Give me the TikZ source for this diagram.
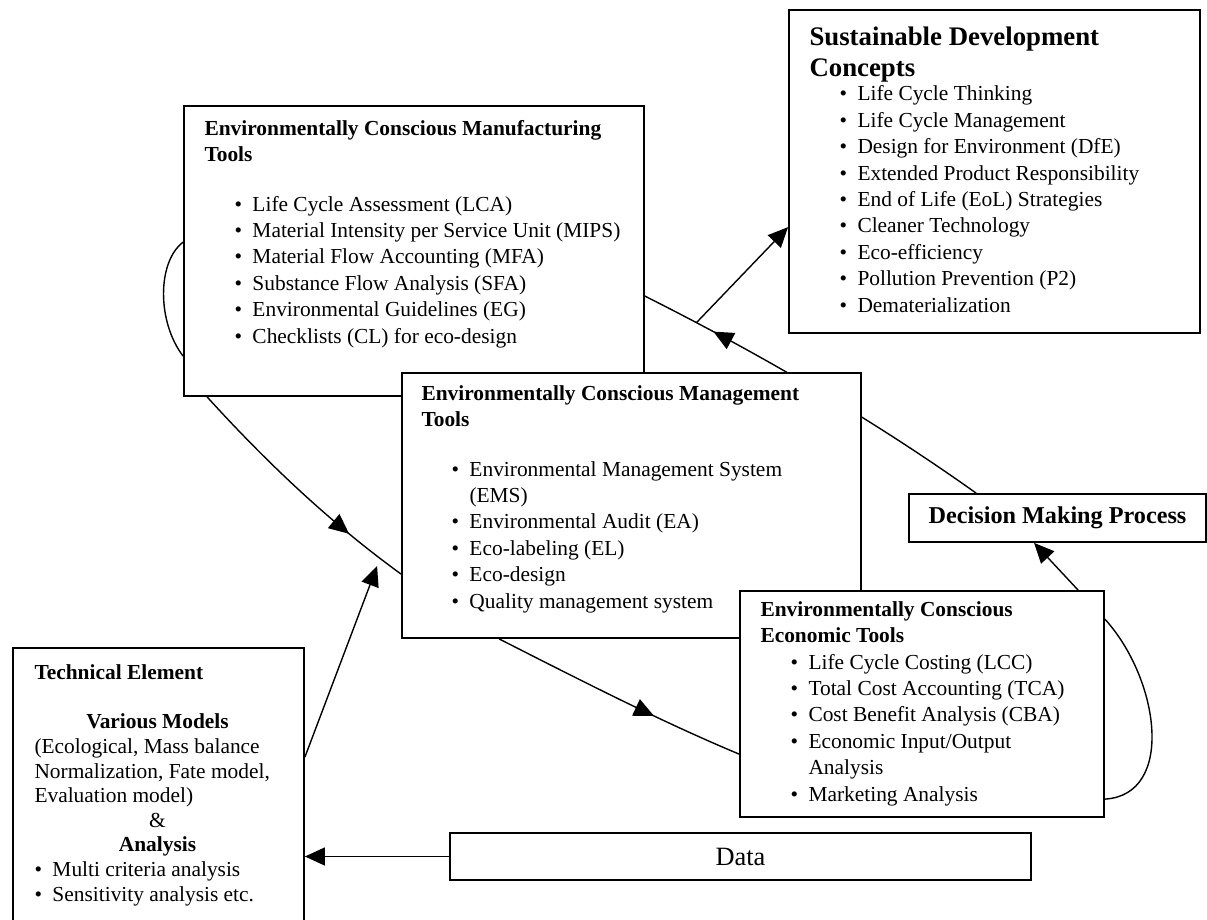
\documentclass[tikz,border=0pt]{standalone}
\usepackage{fontspec}
\setmainfont{Liberation Serif}
\usepackage{tikz}
\usetikzlibrary{arrows.meta,positioning,fit,backgrounds,calc,decorations.markings}

\newcommand{\bitem}{\hspace*{15pt}\makebox[9pt][l]{\textbullet}}
\newcommand{\bcont}{\hspace*{24pt}}

\begin{document}
\begin{tikzpicture}[
  x=0.5pt, y=-0.5pt,
  >={Triangle[length=10pt,width=9pt]},
  box/.style={draw, fill=white, line width=0.9pt, inner sep=0pt},
  txt/.style={align=left, inner sep=0pt, anchor=base west, font=\fontsize{10.7}{13.2}\selectfont},
  arr/.style={->, line width=0.7pt},
  link/.style={line width=0.7pt},
  midarrow/.style={postaction={decorate}, decoration={markings, mark=at position #1 with {\arrow{Triangle[length=10pt,width=9pt]}}}},
]
\useasboundingbox (0,0) rectangle (1207,920);

% manufacturing tools (text placed by its last baseline)
\node[box, fit={(184,106) (644,396)}] (mt) {};
\node[txt] (mttext) at ($(mt.north west)+(21,238)$) {\textbf{Environmentally Conscious Manufacturing}\\
  \textbf{Tools}\\[11.5pt]
  \bitem Life Cycle Assessment (LCA)\\
  \bitem Material Intensity per Service Unit (MIPS)\\
  \bitem Material Flow Accounting (MFA)\\
  \bitem Substance Flow Analysis (SFA)\\
  \bitem Environmental Guidelines (EG)\\
  \bitem Checklists (CL) for eco-design};

% management tools
\node[box, fit={(402,373) (861,638)}] (mg) {};
\node[txt] (mgtext) at ($(mg.north west)+(20,236)$) {\textbf{Environmentally Conscious Management}\\
  \textbf{Tools}\\[11.5pt]
  \bitem Environmental Management System\\
  \bcont (EMS)\\
  \bitem Environmental Audit (EA)\\
  \bitem Eco-labeling (EL)\\
  \bitem Eco-design\\
  \bitem Quality management system};

% economic tools
\node[box, fit={(740,591) (1104,817)}] (ec) {};
\node[txt] (ectext) at ($(ec.north west)+(21,211)$) {\textbf{Environmentally Conscious}\\
  \textbf{Economic Tools}\\
  \bitem Life Cycle Costing (LCC)\\
  \bitem Total Cost Accounting (TCA)\\
  \bitem Cost Benefit Analysis (CBA)\\
  \bitem Economic Input/Output\\
  \bcont Analysis\\
  \bitem Marketing Analysis};

% sustainable development
\node[box, fit={(789,10) (1200,333)}] (sd) {};
\node[txt, font=\fontsize{13.4}{15.5}\selectfont\bfseries] (sdhead) at ($(sd.north west)+(21,67)$) {Sustainable Development\\Concepts};
\node[txt] (sdlist) at ($(sd.north west)+(21,303)$) {\bitem Life Cycle Thinking\\
  \bitem Life Cycle Management\\
  \bitem Design for Environment (DfE)\\
  \bitem Extended Product Responsibility\\
  \bitem End of Life (EoL) Strategies\\
  \bitem Cleaner Technology\\
  \bitem Eco-efficiency\\
  \bitem Pollution Prevention (P2)\\
  \bitem Dematerialization};

\node[box, fit={(909,494) (1206,542)}] (dm) {};
\node[font=\fontsize{12.1}{14}\selectfont\bfseries, inner sep=0pt] (dmtext) at (dm.center) {Decision Making Process};

% technical element
\node[box, fit={(13,648) (304,950)}] (te) {};
\node[txt, font=\fontsize{10.7}{12.3}\selectfont] (tetext) at ($(te.north west)+(22,254)$) {\textbf{Technical Element}\\[12.3pt]
  \makebox[123pt]{\textbf{Various Models}}\\
  (Ecological, Mass balance\\
  Normalization, Fate model,\\
  Evaluation model)\\
  \makebox[123pt]{\&}\\
  \makebox[123pt]{\textbf{Analysis}}\\
  \makebox[9pt][l]{\textbullet}Multi criteria analysis\\
  \makebox[9pt][l]{\textbullet}Sensitivity analysis etc.};

\node[box, fit={(450,833) (1031,880)}] (data) {};
\node[font=\fontsize{13.2}{15}\selectfont, inner sep=0pt] (datatext) at (data.center) {Data};

% points where the cycle meets the boxes
\coordinate (mtloopA) at ($(mt.north west)+(0,137)$);
\coordinate (mtloopB) at ($(mt.north west)+(0,251)$);
\coordinate (mtout) at ($(mt.south west)+(24,0)$);
\coordinate (mgin) at ($(mg.north west)+(0,202)$);
\coordinate (mgout) at ($(mg.south west)+(98,0)$);
\coordinate (ecin) at ($(ec.north west)+(0,164)$);
\coordinate (ecloopA) at ($(ec.north east)+(0,29)$);
\coordinate (ecloopB) at ($(ec.north east)+(0,209)$);
\coordinate (ecout) at ($(ec.north west)+(339,0)$);
\coordinate (dmin) at ($(dm.south west)+(126,0)$);
\coordinate (dmout) at ($(dm.north west)+(68,0)$);
\coordinate (mtin) at ($(mt.north east)+(0,191)$);
\coordinate (sdin) at ($(sd.north west)+(0,218)$);
\coordinate (teout) at ($(te.north east)+(0,110)$);
\coordinate (tetip) at ($(mg.north west)+(-24,194)$);

\begin{scope}[on background layer]
\draw[link] (mtloopA) .. controls (157,262) and (157,322) .. (mtloopB);
\draw[link, midarrow=0.75] (mtout) .. controls (268,464) and (332,524) .. (mgin);
\draw[link, midarrow=0.65] (mgout) .. controls (580,680) and (660,721) .. (ecin);
\draw[link] (ecloopA) .. controls (1160,680) and (1175,795) .. (ecloopB);
\draw[link, midarrow=0.8] (dmout) .. controls (872,419) and (760,354) .. (mtin) coordinate[pos=0.85] (hub);
\draw[arr] (hub) -- (sdin);
\draw[arr] (ecout) -- (dmin);
\draw[arr] (teout) -- (tetip);
\draw[arr] (data.west) -- (data.west -| te.east);
\end{scope}
\end{tikzpicture}
\end{document}
